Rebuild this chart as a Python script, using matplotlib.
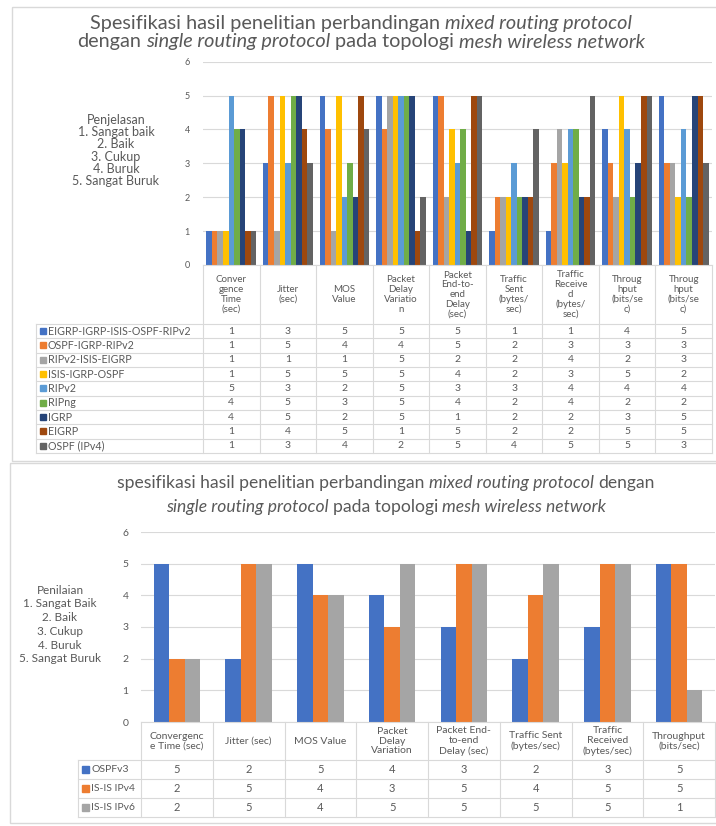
import matplotlib.pyplot as plt
import numpy as np

W, H = 716, 826
plt.rcParams['font.family'] = ['Lato', 'DejaVu Sans']

txt_c = '#595959'
line_c = '#D9D9D9'

# ---- chart 1 (atas) ----
cats1 = ['Conver\ngence\nTime\n(sec)', 'Jitter\n(sec)', 'MOS\nValue',
         'Packet\nDelay\nVariatio\nn', 'Packet\nEnd-to-\nend\nDelay\n(sec)',
         'Traffic\nSent\n(bytes/\nsec)', 'Traffic\nReceive\nd\n(bytes/\nsec)',
         'Throug\nhput\n(bits/se\nc)', 'Throug\nhput\n(bits/se\nc)']
series1 = ['EIGRP-IGRP-ISIS-OSPF-RIPv2', 'OSPF-IGRP-RIPv2', 'RIPv2-ISIS-EIGRP',
           'ISIS-IGRP-OSPF', 'RIPv2', 'RIPng', 'IGRP', 'EIGRP', 'OSPF (IPv4)']
vals1 = [
    [1, 3, 5, 5, 5, 1, 1, 4, 5],
    [1, 5, 4, 4, 5, 2, 3, 3, 3],
    [1, 1, 1, 5, 2, 2, 4, 2, 3],
    [1, 5, 5, 5, 4, 2, 3, 5, 2],
    [5, 3, 2, 5, 3, 3, 4, 4, 4],
    [4, 5, 3, 5, 4, 2, 4, 2, 2],
    [4, 5, 2, 5, 1, 2, 2, 3, 5],
    [1, 4, 5, 1, 5, 2, 2, 5, 5],
    [1, 3, 4, 2, 5, 4, 5, 5, 3],
]
colors1 = ['#4472C4', '#ED7D31', '#A5A5A5', '#FFC000', '#5B9BD5',
           '#70AD47', '#264478', '#9E480E', '#636363']
note1 = ['Penjelasan', '1. Sangat baik', '2. Baik', '3. Cukup', '4. Buruk', '5. Sangat Buruk']

# ---- chart 2 (bawah) ----
cats2 = ['Convergenc\ne Time (sec)', 'Jitter (sec)', 'MOS Value',
         'Packet\nDelay\nVariation', 'Packet End-\nto-end\nDelay (sec)',
         'Traffic Sent\n(bytes/sec)', 'Traffic\nReceived\n(bytes/sec)', 'Throughput\n(bits/sec)']
series2 = ['OSPFv3', 'IS-IS IPv4', 'IS-IS IPv6']
ospfv3 = [5, 2, 5, 4, 3, 2, 3, 5]
isis_ipv4 = [2, 5, 4, 3, 5, 4, 5, 5]
isis_ipv6 = [2, 5, 4, 5, 5, 5, 5, 1]
colors2 = ['#4472C4', '#ED7D31', '#A5A5A5']
note2 = ['Penilaian', '1. Sangat Baik', '2. Baik', '3. Cukup', '4. Buruk', '5. Sangat Buruk']

fig = plt.figure(figsize=(W / 100, H / 100), dpi=100)
over = fig.add_axes([0, 0, 1, 1], zorder=5)
over.set_xlim(0, W)
over.set_ylim(H, 0)
over.axis('off')
over.patch.set_alpha(0)


def px(x0, y0, x1, y1):
    return [x0 / W, 1 - y1 / H, (x1 - x0) / W, (y1 - y0) / H]


def title(lines, cx, ys, width, fs0):
    # judul campuran normal/miring, ukuran disesuaikan ke lebar
    r = fig.canvas.get_renderer()

    def seg_w(s, it, fs):
        t = over.text(0, 0, s, fontsize=fs, style='italic' if it else 'normal')
        w = t.get_window_extent(r).width
        t.remove()
        return w

    def line_w(segs, fs):
        sp = seg_w('x x', False, fs) - seg_w('xx', False, fs)
        return sum(seg_w(s, it, fs) for s, it in segs) + sp * (len(segs) - 1), sp

    wmax = max(line_w(l, fs0)[0] for l in lines)
    fs = fs0 * width / wmax
    for segs, y in zip(lines, ys):
        tot, sp = line_w(segs, fs)
        x = cx - tot / 2
        for s, it in segs:
            over.text(x, y, s, fontsize=fs, style='italic' if it else 'normal',
                      color=txt_c, va='center', ha='left')
            x += seg_w(s, it, fs) + sp


def chart(box, cats, names, vals, colors, group, head_b, row_h, leg_l,
          fs_tick, fs_head, fs_val, fs_leg, sq, pad):
    x0, y0, x1, y1 = box
    ax = fig.add_axes(px(x0, y0, x1, y1))
    n, k = len(cats), len(names)
    x = np.arange(n)
    bw = group / k
    for i, (v, c) in enumerate(zip(vals, colors)):
        ax.bar(x - group / 2 + bw * (i + 0.5), v, bw, color=c, zorder=3)
    ax.set_xlim(-0.5, n - 0.5)
    ax.set_ylim(0, 6)
    ax.set_yticks(range(7))
    ax.set_xticks([])
    ax.yaxis.grid(True, color=line_c, lw=0.8, zorder=0)
    for s in ax.spines.values():
        s.set_visible(False)
    ax.tick_params(axis='y', length=0, labelsize=fs_tick, labelcolor=txt_c, pad=pad)

    # tabel data di bawah
    colw = (x1 - x0) / n
    xs = [x0 + j * colw for j in range(n + 1)]
    bot = head_b + k * row_h
    kw = dict(color=line_c, lw=0.8)
    over.plot([x0, x1], [y1, y1], **kw)
    for r in range(k + 1):
        yy = head_b + r * row_h
        over.plot([leg_l, x1], [yy, yy], **kw)
    over.plot([leg_l, leg_l], [head_b, bot], **kw)
    for xx in xs:
        over.plot([xx, xx], [y1, bot], **kw)
    for j, c in enumerate(cats):
        cx = (xs[j] + xs[j + 1]) / 2
        over.text(cx, (y1 + head_b) / 2, c, fontsize=fs_head, color=txt_c,
                  ha='center', va='center', linespacing=1.1, multialignment='center')
        for r in range(k):
            over.text(cx, head_b + (r + 0.5) * row_h, str(vals[r][j]), fontsize=fs_val,
                      color=txt_c, ha='center', va='center')
    for r, (nm, c) in enumerate(zip(names, colors)):
        cy = head_b + (r + 0.5) * row_h
        over.add_patch(plt.Rectangle((leg_l + 4, cy - sq / 2), sq, sq, color=c))
        over.text(leg_l + 6 + sq, cy, nm, fontsize=fs_leg, color=txt_c, ha='left', va='center')


# bingkai
over.add_patch(plt.Rectangle((12, 7), 710, 454, fill=False, ec=line_c, lw=1))
over.add_patch(plt.Rectangle((10, 463), 712, 360, fill=False, ec=line_c, lw=1))

title([[('Spesifikasi hasil penelitian perbandingan', False), ('mixed routing protocol', True)],
       [('dengan', False), ('single routing protocol', True), ('pada topologi', False),
        ('mesh wireless network', True)]], 361, [23, 42], 565, 12)
title([[('spesifikasi hasil penelitian perbandingan', False), ('mixed routing protocol', True),
        ('dengan', False)],
       [('single routing protocol', True), ('pada topologi', False),
        ('mesh wireless network', True)]], 386, [483, 507], 534, 12)

chart((203, 61.6, 712, 265), cats1, series1, vals1, colors1, 0.88, 324, 14.33, 36,
      6.5, 7, 7.5, 7.7, 6, 9.5)
chart((141, 532, 715, 722), cats2, series2, [ospfv3, isis_ipv4, isis_ipv6], colors2, 0.65,
      760, 19, 78, 7.5, 7.5, 8, 7.5, 7, 9)

for i, s in enumerate(note1):
    over.text(116, 120 + i * 12.2, s, fontsize=9, color=txt_c, ha='center', va='center')
for i, s in enumerate(note2):
    over.text(60, 590 + i * 13.8, s, fontsize=8.5, color=txt_c, ha='center', va='center')

fig.savefig('out.png', dpi=100)
